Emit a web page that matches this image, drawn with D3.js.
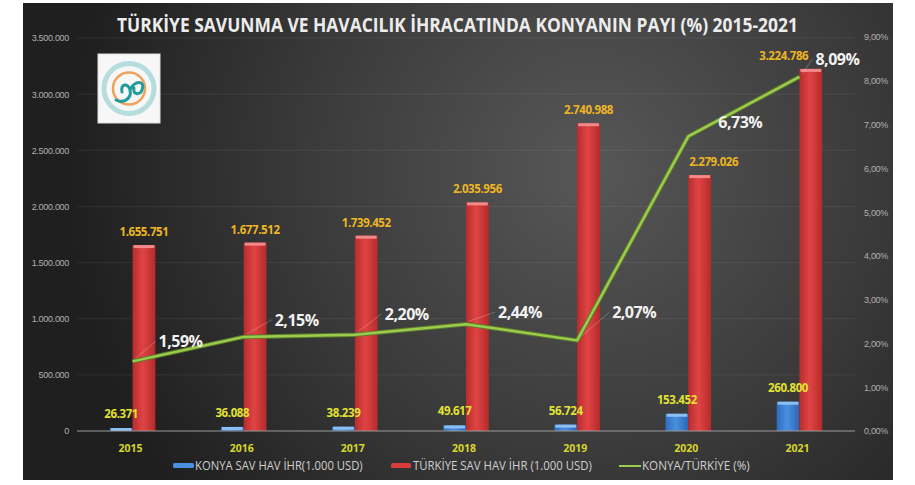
<!DOCTYPE html>
<html>
<head>
<meta charset="utf-8">
<title>Türkiye savunma ve havacılık ihracatında Konya'nın payı</title>
<style>
    body { margin: 0; background: #fff; }
    svg { display: block; font-family: "Open Sans", "DejaVu Sans", sans-serif; }
</style>
<script src="https://d3js.org/d3.v7.min.js"></script>
</head>
<body>
<svg id="chart" width="915" height="485"></svg>
<script>
    // veriler (1.000 USD)
    const years = ["2015", "2016", "2017", "2018", "2019", "2020", "2021"];
    const konya = [26371, 36088, 38239, 49617, 56724, 153452, 260800];
    const turkiye = [1655751, 1677512, 1739452, 2035956, 2740988, 2279026, 3224786];
    const share = [1.59, 2.15, 2.20, 2.44, 2.07, 6.73, 8.09];
    const leftTicks = [0, 500000, 1000000, 1500000, 2000000, 2500000, 3000000, 3500000];
    const rightTicks = [0, 1, 2, 3, 4, 5, 6, 7, 8, 9];
    const legendLabels = ["KONYA SAV HAV İHR(1.000 USD)", "TÜRKİYE SAV HAV İHR (1.000 USD)", "KONYA/TÜRKİYE (%)"];

    // yüzde etiketlerinin noktaya göre kaydırması
    const pctNudge = [[26, -20], [31, -17], [30, -21], [32, -12], [35, -28], [30, -14], [16, -18]];
    // kırmızı çubuk etiketlerinin yatay kaydırması
    const redNudge = [0, 0, 0, 0, 0, 14, -27];

    const tr = d3.formatLocale({decimal: ",", thousands: ".", grouping: [3], currency: ["", "₺"]});
    const fmtInt = tr.format(",d");
    const fmtPct = tr.format(".2f");

    // metni yatayda verilen genişliğe sığdır (dar yazı tipi yerine)
    function fitWidth(sel, x0, y0, width) {
        sel.each(function (d, i) {
            const w = this.getComputedTextLength();
            const xx = typeof x0 === "function" ? x0(d, i) : x0;
            const ww = typeof width === "function" ? width(d, i) : width;
            d3.select(this)
                .attr("x", 0).attr("y", 0)
                .attr("transform", `translate(${xx},${y0}) scale(${ww / w},1)`);
        });
    }

    const svg = d3.select("#chart");
    const defs = svg.append("defs");

    // arka plan
    const bg = defs.append("radialGradient").attr("id", "bg")
        .attr("gradientUnits", "userSpaceOnUse")
        .attr("cx", 590).attr("cy", 170).attr("r", 520);
    bg.append("stop").attr("offset", "0%").attr("stop-color", "#575757");
    bg.append("stop").attr("offset", "55%").attr("stop-color", "#3a3a3a");
    bg.append("stop").attr("offset", "100%").attr("stop-color", "#1f1f1f");

    const redG = defs.append("linearGradient").attr("id", "redG").attr("x1", 0).attr("x2", 1);
    redG.append("stop").attr("offset", "0%").attr("stop-color", "#b82c2c");
    redG.append("stop").attr("offset", "45%").attr("stop-color", "#e04444");
    redG.append("stop").attr("offset", "100%").attr("stop-color", "#b52a2a");

    const blueG = defs.append("linearGradient").attr("id", "blueG").attr("x1", 0).attr("x2", 1);
    blueG.append("stop").attr("offset", "0%").attr("stop-color", "#2d6cbf");
    blueG.append("stop").attr("offset", "45%").attr("stop-color", "#4a90e0");
    blueG.append("stop").attr("offset", "100%").attr("stop-color", "#2b66b5");

    svg.append("rect")
        .attr("x", 23).attr("y", 3)
        .attr("width", 870).attr("height", 477)
        .attr("fill", "url(#bg)");

    // ölçekler
    const x = d3.scaleBand().domain(years).range([77, 855]);
    const y = d3.scaleLinear().domain([0, 3500000]).range([431, 38]);
    const y2 = d3.scaleLinear().domain([0, 9]).range([431, 37]);

    const barW = x.bandwidth() * 0.205;
    const cx = d => x(d) + x.bandwidth() / 2;

    // ızgara
    svg.append("g")
        .selectAll("line")
        .data(leftTicks.filter(d => d > 0))
        .join("line")
        .attr("x1", 77).attr("x2", 855)
        .attr("y1", d => y(d)).attr("y2", d => y(d))
        .attr("stroke", "#ffffff")
        .attr("stroke-opacity", 0.07);

    // sol eksen
    const leftAxis = svg.append("g")
        .attr("transform", "translate(72,0)")
        .call(d3.axisLeft(y).tickValues(leftTicks).tickFormat(fmtInt).tickSize(0).tickPadding(3));
    leftAxis.select(".domain").remove();
    leftAxis.selectAll("text")
        .attr("fill", "#b0b0b0")
        .style("font-size", "9px")
        .style("letter-spacing", "-0.3px");

    // sağ eksen
    const rightAxis = svg.append("g")
        .attr("transform", "translate(862,0)")
        .call(d3.axisRight(y2).tickValues(rightTicks).tickFormat(d => fmtPct(d) + "%").tickSize(0).tickPadding(2));
    rightAxis.select(".domain").remove();
    rightAxis.selectAll("text")
        .attr("fill", "#b0b0b0")
        .style("font-size", "9px")
        .style("letter-spacing", "-0.3px");

    // çubuklar
    const bars = svg.append("g");
    bars.selectAll("rect.konya")
        .data(years)
        .join("rect")
        .attr("class", "konya")
        .attr("x", d => cx(d) - barW)
        .attr("y", (d, i) => y(konya[i]))
        .attr("width", barW)
        .attr("height", (d, i) => y(0) - y(konya[i]))
        .attr("fill", "url(#blueG)");

    bars.selectAll("rect.konyaTop")
        .data(years)
        .join("rect")
        .attr("class", "konyaTop")
        .attr("x", d => cx(d) - barW + 1)
        .attr("y", (d, i) => y(konya[i]))
        .attr("width", barW - 2)
        .attr("height", (d, i) => Math.min(3, y(0) - y(konya[i])))
        .attr("fill", "#8cc0f5");

    bars.selectAll("rect.turkiye")
        .data(years)
        .join("rect")
        .attr("class", "turkiye")
        .attr("x", d => cx(d))
        .attr("y", (d, i) => y(turkiye[i]))
        .attr("width", barW)
        .attr("height", (d, i) => y(0) - y(turkiye[i]))
        .attr("fill", "url(#redG)");

    bars.selectAll("rect.turkiyeTop")
        .data(years)
        .join("rect")
        .attr("class", "turkiyeTop")
        .attr("x", d => cx(d) + 1)
        .attr("y", (d, i) => y(turkiye[i]))
        .attr("width", barW - 2)
        .attr("height", 3)
        .attr("fill", "#f28a8a");

    // taban çizgisi
    svg.append("line")
        .attr("x1", 77).attr("x2", 855)
        .attr("y1", y(0)).attr("y2", y(0))
        .attr("stroke", "#9a9a9a")
        .attr("stroke-width", 1);

    // değer etiketleri
    svg.append("g")
        .selectAll("text")
        .data(years)
        .join("text")
        .attr("x", d => cx(d) - barW / 2)
        .attr("y", (d, i) => y(konya[i]) - 10)
        .attr("text-anchor", "middle")
        .attr("fill", "#e2e232")
        .style("font-size", "11.5px")
        .style("font-weight", "bold")
        .style("letter-spacing", "-0.4px")
        .text((d, i) => fmtInt(konya[i]));

    svg.append("g")
        .selectAll("text")
        .data(years)
        .join("text")
        .attr("x", (d, i) => cx(d) + barW / 2 + redNudge[i])
        .attr("y", (d, i) => y(turkiye[i]) - 9)
        .attr("text-anchor", "middle")
        .attr("fill", "#eeb522")
        .style("font-size", "11.5px")
        .style("font-weight", "bold")
        .style("letter-spacing", "-0.4px")
        .text((d, i) => fmtInt(turkiye[i]));

    // yıl etiketleri
    svg.append("g")
        .selectAll("text")
        .data(years)
        .join("text")
        .attr("x", d => cx(d) - 2)
        .attr("y", 452)
        .attr("text-anchor", "middle")
        .attr("fill", "#d6d62a")
        .style("font-size", "10.5px")
        .style("font-weight", "bold")
        .text(d => d);

    // oran çizgisi
    const line = d3.line()
        .x((d, i) => cx(years[i]))
        .y(d => y2(d));

    // etiket kılavuz çizgileri
    svg.append("g")
        .selectAll("line")
        .data(share)
        .join("line")
        .attr("x1", (d, i) => cx(years[i]) + 3)
        .attr("y1", (d, i) => y2(d) - 3)
        .attr("x2", (d, i) => cx(years[i]) + pctNudge[i][0] - 3)
        .attr("y2", (d, i) => y2(d) + pctNudge[i][1])
        .attr("stroke", "#ffffff")
        .attr("stroke-opacity", 0.3)
        .attr("stroke-width", 0.8);

    svg.append("path")
        .datum(share)
        .attr("d", line)
        .attr("fill", "none")
        .attr("stroke", "#5c7a2a")
        .attr("stroke-width", 4.5)
        .attr("stroke-linejoin", "round");
    svg.append("path")
        .datum(share)
        .attr("d", line)
        .attr("fill", "none")
        .attr("stroke", "#9ccc4e")
        .attr("stroke-width", 2.5)
        .attr("stroke-linejoin", "round");

    svg.append("g")
        .selectAll("text")
        .data(share)
        .join("text")
        .attr("x", (d, i) => cx(years[i]) + pctNudge[i][0])
        .attr("y", (d, i) => y2(d) + pctNudge[i][1] + 6)
        .attr("fill", "#f2f2f2")
        .style("font-size", "16px")
        .style("font-weight", "bold")
        .style("letter-spacing", "-0.5px")
        .text(d => fmtPct(d) + "%");

    // başlık
    svg.append("text")
        .attr("fill", "#ececec")
        .style("font-size", "20px")
        .style("font-weight", "bold")
        .text("TÜRKİYE SAVUNMA VE HAVACILIK İHRACATINDA KONYANIN PAYI (%) 2015-2021")
        .call(fitWidth, 117, 32, 681);

    // logo
    const logo = svg.append("g");
    logo.append("rect")
        .attr("x", 98).attr("y", 54)
        .attr("width", 62).attr("height", 69)
        .attr("fill", "#f7f7f7")
        .attr("stroke", "#ddd");
    logo.append("circle")
        .attr("cx", 129).attr("cy", 88.5).attr("r", 25)
        .attr("fill", "none")
        .attr("stroke", "#7fc8c8")
        .attr("stroke-width", 5)
        .attr("stroke-opacity", 0.55);
    logo.append("circle")
        .attr("cx", 129).attr("cy", 88.5).attr("r", 16)
        .attr("fill", "none")
        .attr("stroke", "#eea25a")
        .attr("stroke-width", 2.5);
    logo.append("path")
        .attr("d", "M116,100 C124,104 132,98 130,90 C128,82 120,84 122,92 M130,90 C134,80 146,80 142,90 C140,96 132,94 134,88")
        .attr("fill", "none")
        .attr("stroke", "#1f9c9c")
        .attr("stroke-width", 3)
        .attr("stroke-linecap", "round");

    // lejant
    const legend = svg.append("g");
    legend.append("rect")
        .attr("x", 173).attr("y", 463)
        .attr("width", 21).attr("height", 5).attr("rx", 1.5)
        .attr("fill", "#4a90e0");
    legend.append("rect")
        .attr("x", 391).attr("y", 463)
        .attr("width", 20).attr("height", 5).attr("rx", 1.5)
        .attr("fill", "#d93a3a");
    legend.append("line")
        .attr("x1", 619).attr("x2", 641)
        .attr("y1", 466).attr("y2", 466)
        .attr("stroke", "#9ccc4e")
        .attr("stroke-width", 2);

    const legendX = [195, 413, 642];
    const legendW = [168, 179, 108];
    legend.selectAll("text")
        .data(legendLabels)
        .join("text")
        .attr("fill", "#cfcfcf")
        .style("font-size", "12px")
        .text(d => d)
        .call(fitWidth, (d, i) => legendX[i], 470, (d, i) => legendW[i]);
</script>
</body>
</html>
